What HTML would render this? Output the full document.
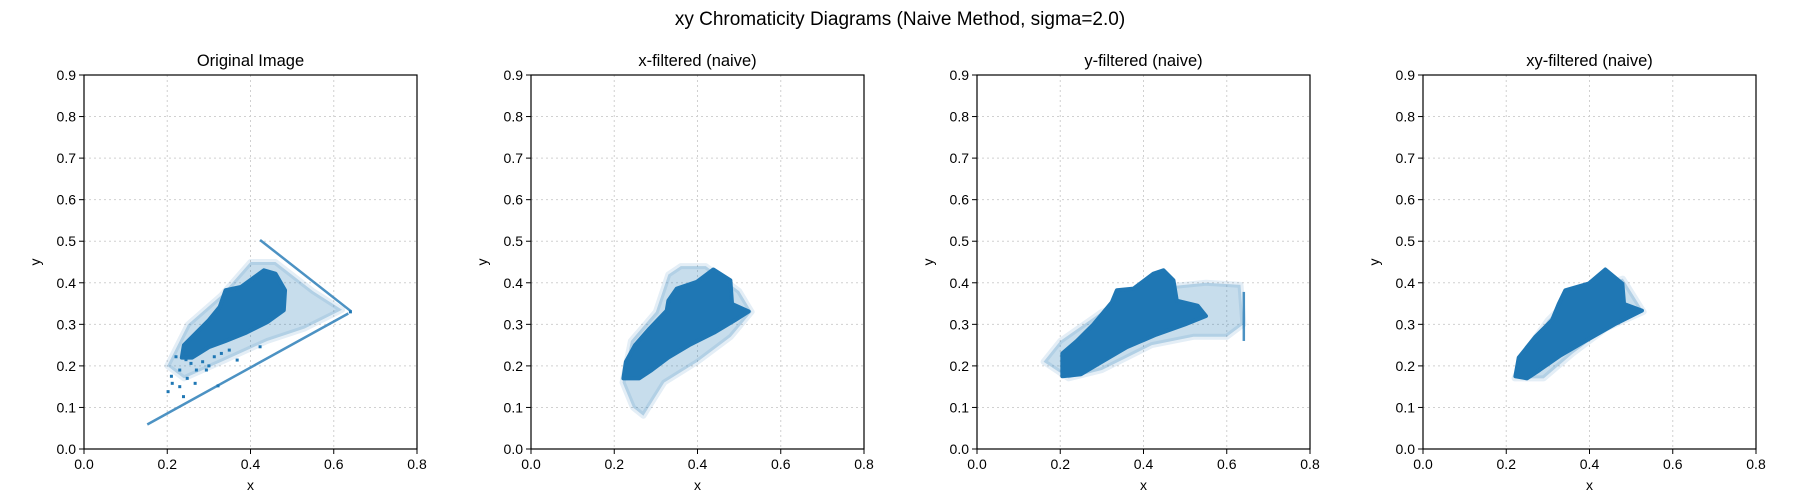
<!DOCTYPE html>
<html><head><meta charset="utf-8"><style>
body{margin:0;background:#fff;}
svg{display:block;font-family:"Liberation Sans","DejaVu Sans",sans-serif;}
</style></head><body>
<svg id="fig" width="1800" height="500"></svg>
<script>
const xTicks=[0,0.2,0.4,0.6,0.8];
const yTicks=[0,0.1,0.2,0.3,0.4,0.5,0.6,0.7,0.8,0.9];
const panelTitles=["Original Image","x-filtered (naive)","y-filtered (naive)","xy-filtered (naive)"];
const panelLefts=[84,531,977,1423];
// dense regions (x,y pairs)
const dense1=[[0.326,0.342],[0.34,0.382],[0.377,0.39],[0.432,0.43],[0.46,0.422],[0.483,0.382],[0.48,0.334],[0.44,0.305],[0.39,0.28],[0.34,0.26],[0.30,0.245],[0.26,0.22],[0.235,0.22],[0.24,0.25],[0.27,0.28],[0.30,0.31]];
const haze1=[[0.2,0.2],[0.25,0.3],[0.33,0.37],[0.40,0.45],[0.46,0.45],[0.55,0.38],[0.62,0.335],[0.53,0.29],[0.44,0.26],[0.33,0.21],[0.24,0.17]];
const line1a=[[0.423,0.503],[0.642,0.331]];
const line1b=[[0.152,0.059],[0.635,0.326]];
const dots1=[[0.23,0.19],[0.212,0.158],[0.202,0.138],[0.248,0.17],[0.267,0.158],[0.322,0.152],[0.285,0.21],[0.313,0.222],[0.349,0.238],[0.221,0.222],[0.257,0.206],[0.294,0.19],[0.368,0.214],[0.423,0.246],[0.23,0.15],[0.239,0.126],[0.245,0.215],[0.21,0.175],[0.27,0.19],[0.3,0.2],[0.33,0.23],[0.64,0.33]];
const dense2=[[0.222,0.17],[0.228,0.21],[0.25,0.25],[0.285,0.29],[0.326,0.333],[0.33,0.357],[0.35,0.386],[0.398,0.402],[0.438,0.432],[0.479,0.406],[0.483,0.349],[0.523,0.331],[0.49,0.31],[0.44,0.28],[0.38,0.25],[0.33,0.22],[0.29,0.19],[0.26,0.17]];
const haze2=[[0.22,0.16],[0.24,0.26],[0.3,0.33],[0.33,0.42],[0.36,0.44],[0.42,0.44],[0.5,0.38],[0.53,0.33],[0.48,0.27],[0.40,0.21],[0.32,0.16],[0.27,0.08],[0.245,0.1]];
const dense3=[[0.205,0.175],[0.205,0.23],[0.24,0.26],[0.28,0.3],[0.324,0.353],[0.336,0.382],[0.376,0.386],[0.424,0.422],[0.448,0.43],[0.472,0.406],[0.48,0.357],[0.53,0.345],[0.55,0.32],[0.50,0.30],[0.43,0.275],[0.36,0.245],[0.30,0.21],[0.25,0.18]];
const haze3=[[0.16,0.21],[0.2,0.26],[0.3,0.33],[0.45,0.39],[0.55,0.40],[0.633,0.395],[0.64,0.3],[0.6,0.27],[0.52,0.27],[0.42,0.25],[0.3,0.19],[0.22,0.17]];
const line3=[[0.641,0.378],[0.641,0.26]];
const dense4=[[0.222,0.175],[0.23,0.22],[0.27,0.27],[0.31,0.31],[0.326,0.349],[0.342,0.382],[0.398,0.398],[0.438,0.432],[0.479,0.398],[0.483,0.349],[0.526,0.333],[0.46,0.3],[0.39,0.26],[0.33,0.225],[0.28,0.19],[0.25,0.17]];
const haze4=[[0.22,0.17],[0.25,0.24],[0.3,0.31],[0.36,0.37],[0.48,0.41],[0.53,0.33],[0.44,0.29],[0.36,0.23],[0.29,0.17]];
const panels=[{dense:dense1,haze:haze1,lines:[line1a,line1b],dots:dots1},{dense:dense2,haze:haze2,lines:[],dots:[]},{dense:dense3,haze:haze3,lines:[line3],dots:[]},{dense:dense4,haze:haze4,lines:[],dots:[]}];

const NS="http://www.w3.org/2000/svg";
const svg=document.getElementById('fig');
const W=333,T=75,B=449,C="#1f77b4";
function mk(tag,attrs,parent){const e=document.createElementNS(NS,tag);for(const k in attrs)e.setAttribute(k,attrs[k]);(parent||svg).appendChild(e);return e;}
const st=mk('text',{x:900,y:25,'text-anchor':'middle','font-size':19,fill:'#000'});


st.textContent="xy Chromaticity Diagrams (Naive Method, sigma=2.0)";

panels.forEach((p,i)=>{
  const L=panelLefts[i];
  const sx=v=>L+v/0.8*W, sy=v=>B-v/0.9*(B-T);
  const g=mk('g',{});
  
  
  xTicks.forEach(t=>{
    if(t>0&&t<0.8){const l=mk('line',{x1:sx(t),x2:sx(t),y1:T,y2:B,stroke:'#d0d0d0','stroke-dasharray':'2,3','stroke-width':1},g);
    }
    mk('line',{x1:sx(t),x2:sx(t),y1:B,y2:B+5,stroke:'#000'},g);
    const tx=mk('text',{x:sx(t),y:B+20,'text-anchor':'middle','font-size':14},g);
    
    tx.textContent=t.toFixed(1);
  });
  yTicks.forEach(t=>{
    if(t>0&&t<0.9){const l=mk('line',{x1:L,x2:L+W,y1:sy(t),y2:sy(t),stroke:'#d0d0d0','stroke-dasharray':'2,3','stroke-width':1},g);
    }
    mk('line',{x1:L-5,x2:L,y1:sy(t),y2:sy(t),stroke:'#000'},g);
    const tx=mk('text',{x:L-8,y:sy(t)+5,'text-anchor':'end','font-size':14},g);
    
    tx.textContent=t.toFixed(1);
  });
  const pts=a=>a.map(q=>sx(q[0])+','+sy(q[1])).join(' ');
  const hz=mk('polygon',{points:pts(p.haze),fill:C,'fill-opacity':0.25,stroke:C,'stroke-opacity':0.12,'stroke-width':6,'stroke-linejoin':'round'},g);
  
  p.lines.forEach(ln=>{const l=mk('polyline',{points:pts(ln),fill:'none',stroke:C,'stroke-width':2.5,'stroke-opacity':0.8},g);
    });
  const dn=mk('polygon',{points:pts(p.dense),fill:C,stroke:C,'stroke-width':4,'stroke-linejoin':'round'},g);
  
  p.dots.forEach(d=>{const c=mk('rect',{x:sx(d[0])-1.5,y:sy(d[1])-1.5,width:3,height:3,fill:C},g);
    });
  const fr=mk('rect',{x:L,y:T,width:W,height:B-T,fill:'none',stroke:'#000','stroke-width':1.2},g);
  
  const ti=mk('text',{x:L+W/2,y:66,'text-anchor':'middle','font-size':16.5},g);
  
  ti.textContent=panelTitles[i];
  const xl=mk('text',{x:L+W/2,y:490,'text-anchor':'middle','font-size':14},g);
  
  xl.textContent='x';
  const yl=mk('text',{x:0,y:0,'text-anchor':'middle','font-size':14,transform:`translate(${L-44},${(T+B)/2}) rotate(-90)`},g);
  
  yl.textContent='y';
});
</script>
</body></html>
